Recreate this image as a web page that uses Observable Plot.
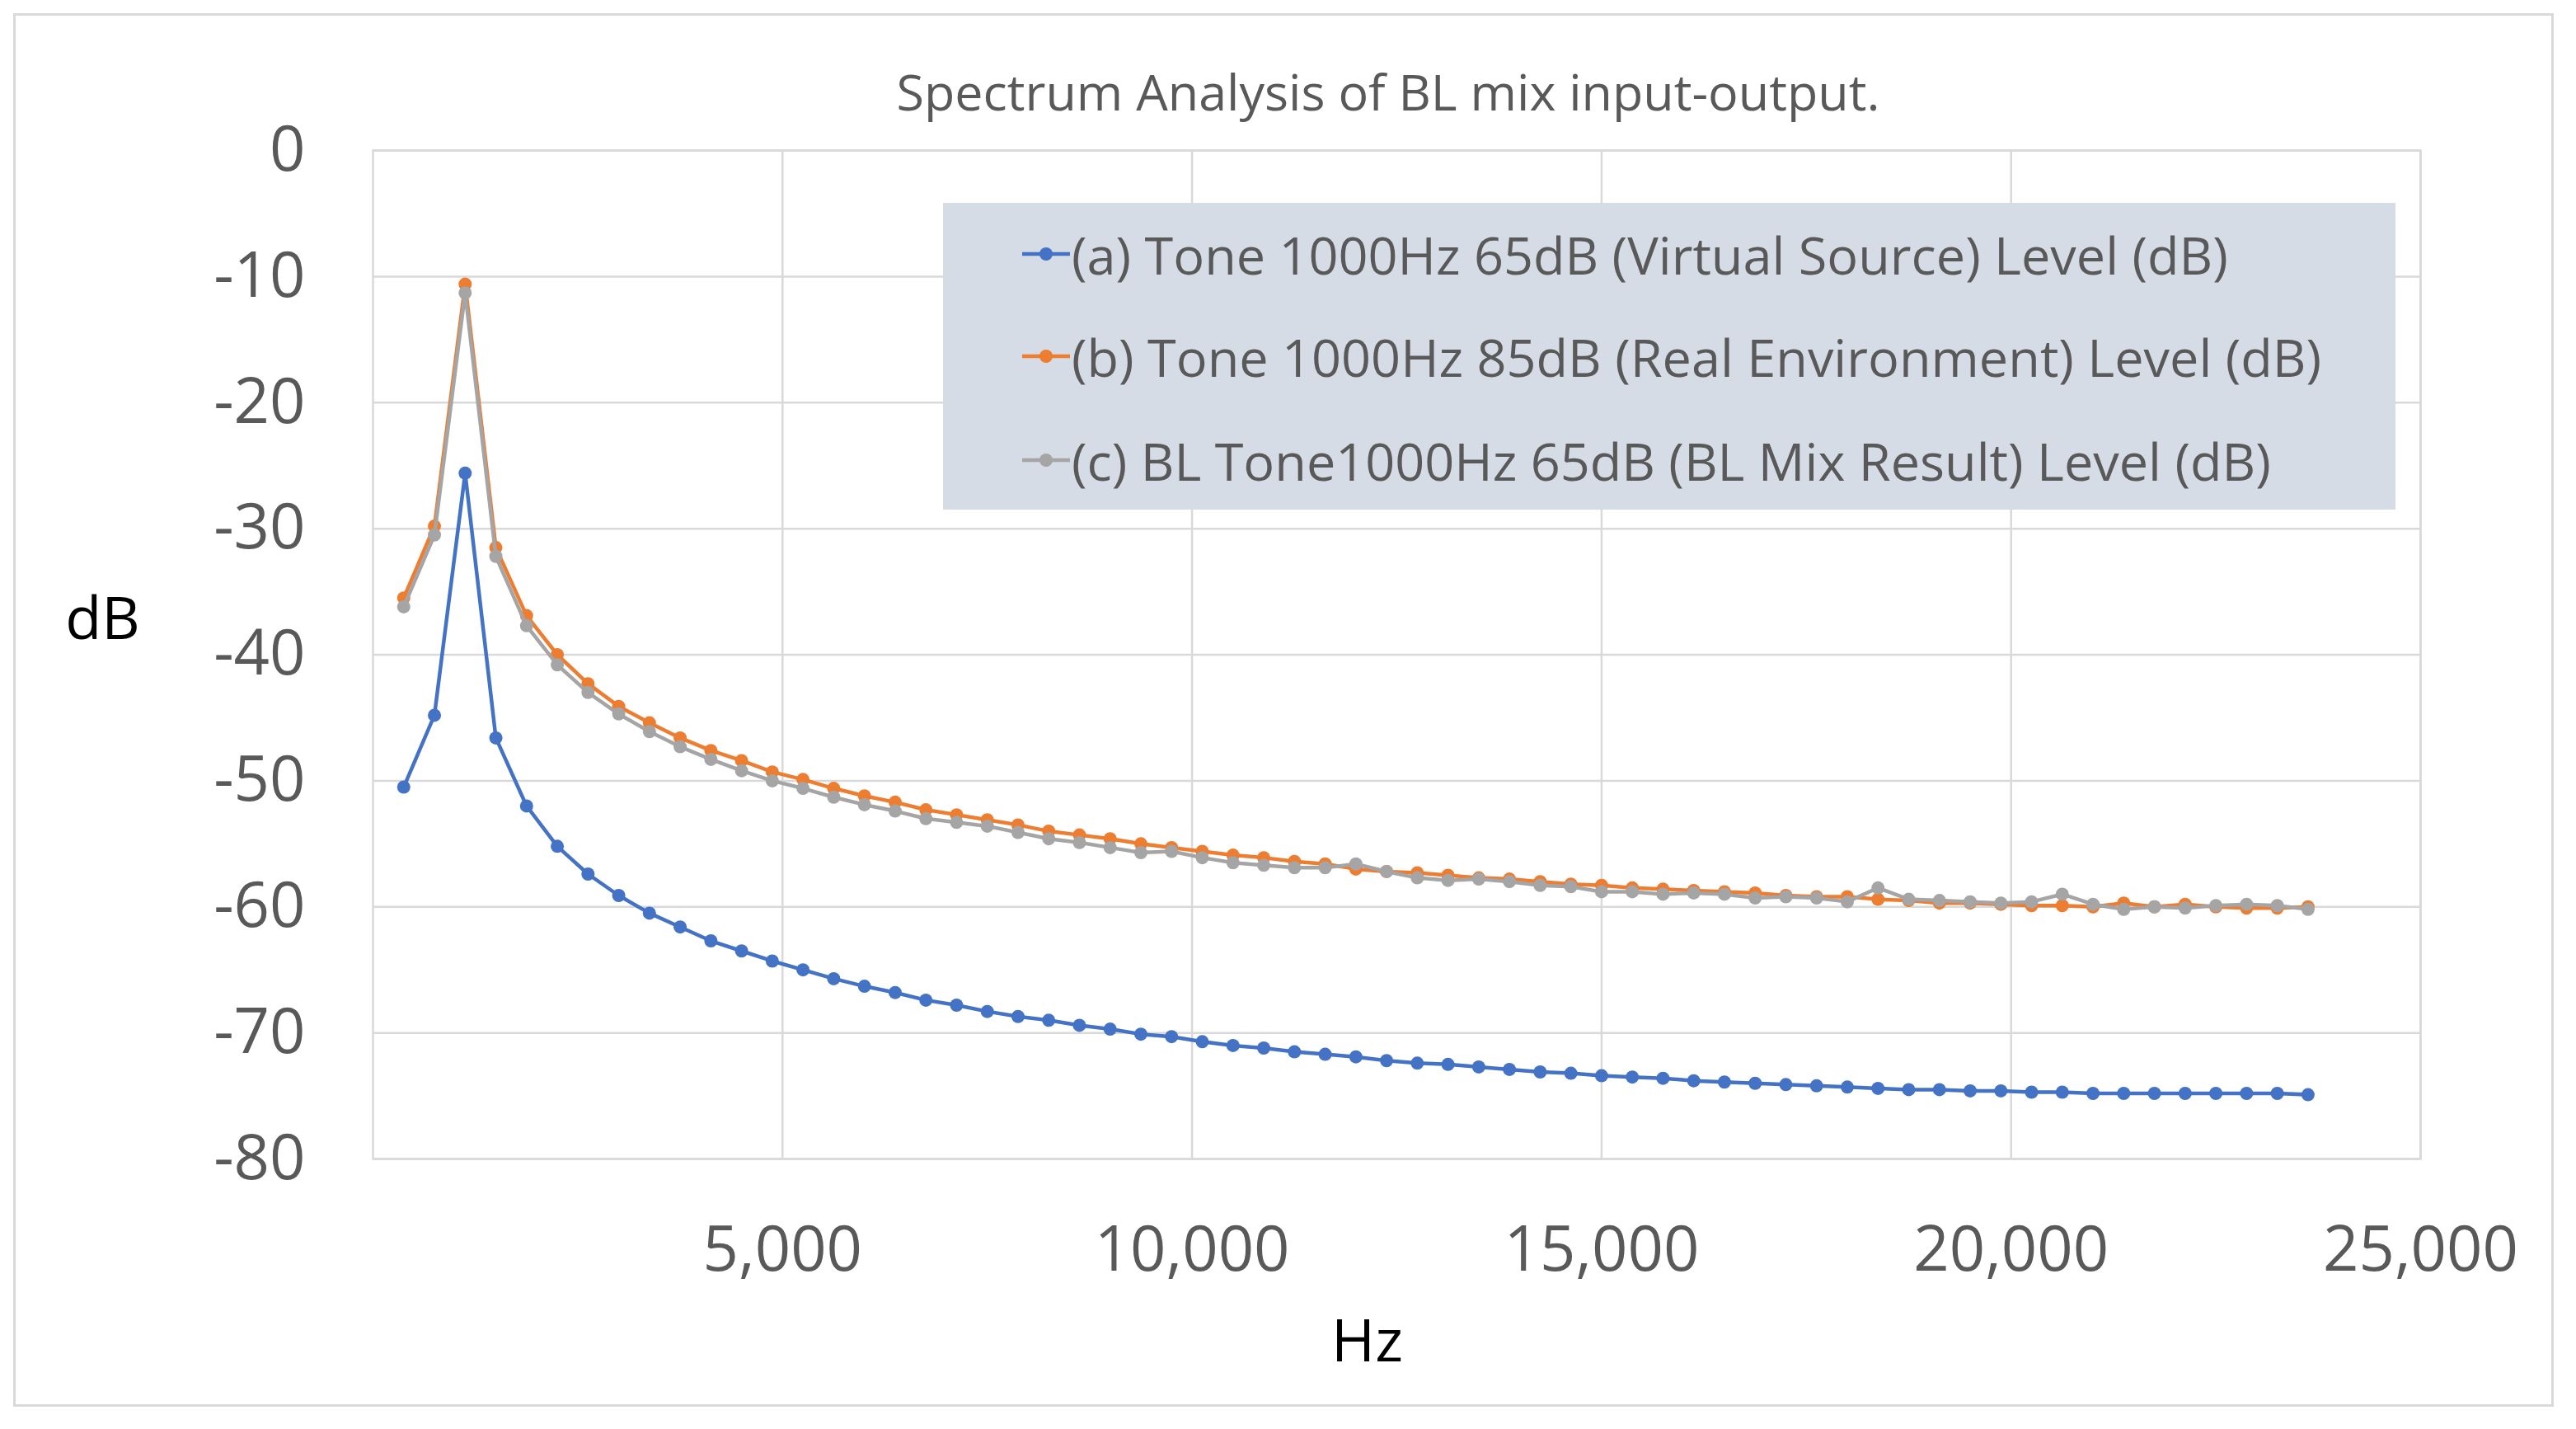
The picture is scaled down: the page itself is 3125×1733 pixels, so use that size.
<!DOCTYPE html>
<html>
<head>
<meta charset="utf-8">
<script src="https://cdn.jsdelivr.net/npm/d3@7"></script>
<script src="https://cdn.jsdelivr.net/npm/@observablehq/plot@0.6"></script>
<style>
  html, body { margin: 0; padding: 0; background: #fff; }
  #wrap { position: relative; width: 3125px; height: 1733px; font-family: "Open Sans", sans-serif; }
  #border { position: absolute; left: 16px; top: 16px; width: 3076px; height: 1684px; border: 3px solid #d9d9d9; }
  #title { position: absolute; left: 0; width: 3368px; top: 80px; text-align: center; font-size: 61px; color: #595959; line-height: 1; white-space: nowrap; }
  #legend { position: absolute; left: 1144px; top: 246px; width: 1762px; height: 372px; background: #d6dce5; }
  .item { position: absolute; left: 96px; height: 90px; display: flex; align-items: center; font-size: 63px; color: #595959; white-space: nowrap; }
  .item svg { margin-right: 2px; }
  #chart { position: absolute; left: 0; top: 0; }
</style>
</head>
<body>
<div id="wrap">
  <div id="border"></div>
  <div id="chart"></div>
  <div id="title">Spectrum Analysis of BL mix input-output.</div>
  <div id="legend"></div>
</div>
<script>
const hz = [375, 750, 1125, 1500, 1875, 2250, 2625, 3000, 3375, 3750, 4125, 4500, 4875, 5250, 5625, 6000,
  6375, 6750, 7125, 7500, 7875, 8250, 8625, 9000, 9375, 9750, 10125, 10500, 10875, 11250, 11625, 12000,
  12375, 12750, 13125, 13500, 13875, 14250, 14625, 15000, 15375, 15750, 16125, 16500, 16875, 17250, 17625,
  18000, 18375, 18750, 19125, 19500, 19875, 20250, 20625, 21000, 21375, 21750, 22125, 22500, 22875, 23250, 23625];

const seriesA = [-50.5, -44.8, -25.6, -46.6, -52.0, -55.2, -57.4, -59.1, -60.5, -61.6, -62.7, -63.5, -64.3,
  -65.0, -65.7, -66.3, -66.8, -67.4, -67.8, -68.3, -68.7, -69.0, -69.4, -69.7, -70.1, -70.3, -70.7, -71.0,
  -71.2, -71.5, -71.7, -71.9, -72.2, -72.4, -72.5, -72.7, -72.9, -73.1, -73.2, -73.4, -73.5, -73.6, -73.8,
  -73.9, -74.0, -74.1, -74.2, -74.3, -74.4, -74.5, -74.5, -74.6, -74.6, -74.7, -74.7, -74.8, -74.8, -74.8,
  -74.8, -74.8, -74.8, -74.8, -74.9];

const seriesB = [-35.5, -29.8, -10.6, -31.5, -36.9, -40.0, -42.3, -44.1, -45.4, -46.6, -47.6, -48.4, -49.3,
  -49.9, -50.6, -51.2, -51.7, -52.3, -52.7, -53.1, -53.5, -54.0, -54.3, -54.6, -55.0, -55.3, -55.6, -55.9,
  -56.1, -56.4, -56.6, -57.0, -57.2, -57.3, -57.5, -57.7, -57.8, -58.0, -58.2, -58.3, -58.5, -58.6, -58.7,
  -58.8, -58.9, -59.1, -59.2, -59.2, -59.4, -59.5, -59.7, -59.7, -59.8, -59.9, -59.9, -60.0, -59.7, -60.0,
  -59.8, -60.0, -60.1, -60.1, -60.0];

const seriesC = [-36.2, -30.5, -11.3, -32.2, -37.7, -40.8, -43.0, -44.7, -46.1, -47.3, -48.3, -49.2, -50.0,
  -50.6, -51.3, -51.9, -52.4, -53.0, -53.3, -53.6, -54.1, -54.6, -54.9, -55.3, -55.7, -55.6, -56.1, -56.5,
  -56.7, -56.9, -56.9, -56.6, -57.2, -57.7, -57.9, -57.8, -58.0, -58.3, -58.4, -58.8, -58.8, -59.0, -58.9,
  -59.0, -59.3, -59.2, -59.3, -59.6, -58.5, -59.4, -59.5, -59.6, -59.7, -59.6, -59.0, -59.8, -60.2, -60.0,
  -60.1, -59.9, -59.8, -59.9, -60.2];

const seriesNames = [
  "(a) Tone 1000Hz 65dB (Virtual Source) Level (dB)",
  "(b) Tone 1000Hz 85dB (Real Environment) Level (dB)",
  "(c) BL Tone1000Hz 65dB (BL Mix Result) Level (dB)"
];
const seriesColors = ["#4472c4", "#ed7d31", "#a5a5a5"];
const xTicks = [5000, 10000, 15000, 20000, 25000];
const yTicks = [0, -10, -20, -30, -40, -50, -60, -70, -80];

const allSeries = [seriesA, seriesB, seriesC];
const rows = allSeries.map((vals, s) => hz.map((h, i) => ({hz: h, db: vals[i], s})));

const marks = [
  Plot.gridX(xTicks, {stroke: "#d9d9d9", strokeOpacity: 1, strokeWidth: 2.5}),
  Plot.gridY(yTicks, {stroke: "#d9d9d9", strokeOpacity: 1, strokeWidth: 2.5}),
  Plot.frame({stroke: "#d9d9d9", strokeWidth: 2.5}),
  Plot.axisX({ticks: xTicks, tickSize: 0, tickPadding: 82, tickFormat: d3.format(","), label: null, fontSize: 76, fill: "#595959"}),
  Plot.axisY({ticks: yTicks, tickSize: 0, tickPadding: 82, tickFormat: d => String(d), label: null, fontSize: 76, fill: "#595959"}),
  Plot.text(["dB"], {frameAnchor: "left", dx: -328, dy: -42, fontSize: 72, fill: "#000", textAnchor: "middle"}),
  Plot.text(["Hz"], {frameAnchor: "bottom", dx: -36, dy: 245, fontSize: 72, fill: "#000", textAnchor: "middle"})
];
rows.forEach((data, s) => {
  marks.push(Plot.line(data, {x: "hz", y: "db", stroke: seriesColors[s], strokeWidth: 4.5}));
  marks.push(Plot.dot(data, {x: "hz", y: "db", fill: seriesColors[s], r: 8}));
});

const chart = Plot.plot({
  width: 3125,
  height: 1733,
  marginLeft: 452,
  marginRight: 189,
  marginTop: 182,
  marginBottom: 328,
  style: {fontFamily: "Open Sans, sans-serif", fontSize: "76px", color: "#595959", background: "transparent"},
  x: {domain: [0, 25000]},
  y: {domain: [-80, 0]},
  marks
});
document.getElementById("chart").appendChild(chart);

const legend = document.getElementById("legend");
const centers = [62, 186, 312];
seriesNames.forEach((name, i) => {
  const item = document.createElement("div");
  item.className = "item";
  item.style.top = (centers[i] - 45) + "px";
  item.innerHTML = `<svg width="58" height="24"><line x1="0" y1="12" x2="58" y2="12" stroke="${seriesColors[i]}" stroke-width="4.5"/><circle cx="29" cy="12" r="8" fill="${seriesColors[i]}"/></svg>`;
  const span = document.createElement("span");
  span.textContent = name;
  item.appendChild(span);
  legend.appendChild(item);
});
</script>
</body>
</html>
